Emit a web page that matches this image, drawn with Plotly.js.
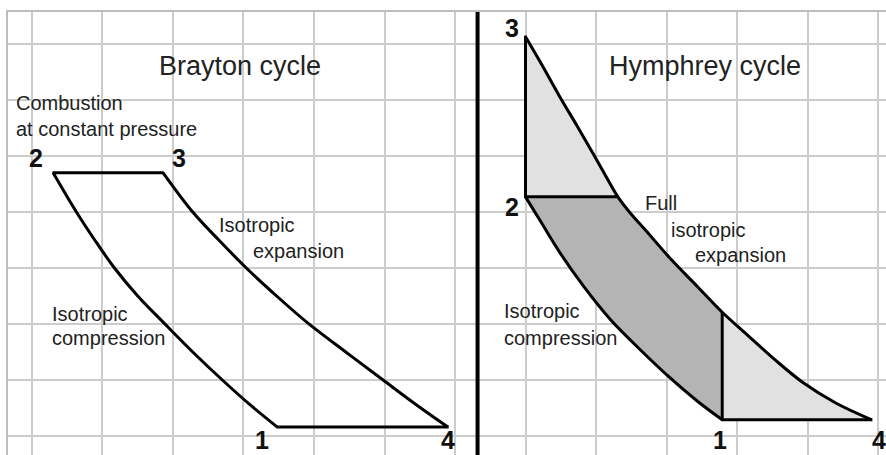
<!DOCTYPE html>
<html>
<head>
<meta charset="utf-8">
<script src="https://cdn.plot.ly/plotly-3.0.1.min.js"></script>
<style>
  html, body { margin: 0; padding: 0; background: #fff; }
  #chart { width: 886px; height: 455px; }
</style>
</head>
<body>
<div id="chart"></div>
<script>
// p-v diagrams, in grid squares (v across, p up)

// Brayton cycle: 2 -> 1 compression, 3 -> 4 expansion
const braytonCompV = [0.30, 0.63, 0.89, 1.17, 1.50, 1.87, 2.28, 2.70, 3.10, 3.48];
const braytonCompP = [4.70, 4.00, 3.50, 3.00, 2.50, 2.02, 1.50, 1.00, 0.55, 0.16];
const braytonExpV  = [1.86, 2.28, 2.65, 3.04, 3.47, 3.91, 4.45, 4.98, 5.46, 5.90];
const braytonExpP  = [4.70, 4.00, 3.50, 3.00, 2.50, 2.02, 1.50, 1.00, 0.55, 0.16];

// Humphrey cycle: 2 -> 1 compression, 3 -> 4 full expansion
const humphreyExpV  = [7.00, 7.25, 7.49, 7.73, 7.96, 8.14, 8.31, 8.50, 8.70, 9.06, 9.43, 9.79, 10.16, 10.54, 10.94, 11.40, 11.91];
const humphreyExpP  = [7.13, 6.59, 6.05, 5.54, 5.04, 4.64, 4.27, 3.96, 3.68, 3.16, 2.68, 2.21, 1.79, 1.36, 0.95, 0.59, 0.29];
const humphreyCompV = [7.00, 7.22, 7.49, 7.82, 8.21, 8.62, 9.04, 9.43, 9.79];
const humphreyCompP = [4.27, 3.82, 3.27, 2.68, 2.07, 1.55, 1.05, 0.63, 0.29];

const divider = 6.32;

const LIGHT = '#e1e1e1';
const DARK = '#b4b4b4';
const INK = '#000';
const TXT = '#222';
const FONT = '"Liberation Sans", Arial, sans-serif';

const rev = (a) => a.slice().reverse();
const last = (a) => a[a.length - 1];

// state points of the Humphrey cycle
const p2 = humphreyCompP[0], v2 = humphreyCompV[0];
const v1 = last(humphreyCompV), p1 = last(humphreyCompP);
const i2 = humphreyExpP.indexOf(p2);   // expansion reaches p2
const i1 = humphreyExpV.indexOf(v1);   // expansion reaches v1

function fillTrace(x, y, color) {
  return { x, y, mode: 'lines', fill: 'toself', fillcolor: color,
           line: { width: 0, color: color, simplify: false }, hoverinfo: 'skip' };
}
function curve(x, y) {
  return { x, y, mode: 'lines', hoverinfo: 'skip',
           line: { color: INK, width: 3, shape: 'spline', smoothing: 1, simplify: false } };
}
function seg(x, y) {
  return { x, y, mode: 'lines', hoverinfo: 'skip', line: { color: INK, width: 3 } };
}

const traces = [
  // Humphrey shaded areas
  fillTrace([...humphreyExpV.slice(0, i2 + 1), v2],
            [...humphreyExpP.slice(0, i2 + 1), p2], LIGHT),
  fillTrace([...humphreyExpV.slice(i2, i1 + 1), v1, ...rev(humphreyCompV)],
            [...humphreyExpP.slice(i2, i1 + 1), p1, ...rev(humphreyCompP)], DARK),
  fillTrace([...humphreyExpV.slice(i1), v1],
            [...humphreyExpP.slice(i1), p1], LIGHT),

  // Brayton
  curve(braytonCompV, braytonCompP),
  curve(braytonExpV, braytonExpP),
  seg([braytonCompV[0] - 0.01, braytonExpV[0] + 0.01], [braytonCompP[0], braytonExpP[0]]),
  seg([last(braytonCompV) - 0.01, last(braytonExpV) + 0.01], [last(braytonCompP), last(braytonExpP)]),

  // Humphrey
  curve(humphreyExpV, humphreyExpP),
  curve(humphreyCompV, humphreyCompP),
  seg([v2, v2], [humphreyExpP[0] + 0.02, p2 - 0.02]),
  seg([v2, humphreyExpV[i2]], [p2, humphreyExpP[i2]]),
  seg([v1, v1], [humphreyExpP[i1], p1 - 0.02]),
  seg([v1 - 0.01, last(humphreyExpV) + 0.01], [p1, last(humphreyExpP)]),
];

const num = (text, x, y, yanchor) => ({
  text, x, y, xref: 'x', yref: 'y', showarrow: false,
  yanchor: yanchor || 'middle', yshift: yanchor ? -1 : 0,
  font: { family: FONT, size: 25, color: '#111', weight: 'bold' }
});
const lbl = (text, x, y, size) => ({
  text, x, y, xref: 'x', yref: 'y', showarrow: false,
  xanchor: size ? 'center' : 'left', align: 'left',
  font: { family: FONT, size: size || 20, color: TXT }
});

const annotations = [
  lbl('Brayton cycle', 2.95, 6.61, 27),
  lbl('Hymphrey cycle', 9.55, 6.61, 27),
  lbl('Combustion<br>at constant pressure', -0.25, 5.71),
  lbl('Isotropic', 2.63, 3.77),
  lbl('expansion', 3.10, 3.30),
  lbl('Isotropic', 0.26, 2.18),
  lbl('compression', 0.26, 1.75),
  lbl('Full', 8.66, 4.16),
  lbl('isotropic', 9.04, 3.68),
  lbl('expansion', 9.37, 3.23),
  lbl('Isotropic', 6.67, 2.23),
  lbl('compression', 6.67, 1.75),
  num('2', 0.06, 4.96),
  num('3', 2.09, 4.96),
  num('1', 3.26, -0.339, 'bottom'),   // sits on the lower edge
  num('4', 5.90, -0.339, 'bottom'),
  num('3', 6.81, 7.29),
  num('2', 6.81, 4.09),
  num('1', 9.76, -0.07),
  num('4', 12.01, -0.07),
];

const grid = {
  dtick: 1, tick0: 0, showgrid: true, gridcolor: '#cccccc', gridwidth: 2,
  zeroline: false, showticklabels: false, ticks: '',
  showline: true, linecolor: '#bdbdbd', linewidth: 2, fixedrange: true
};

const layout = {
  width: 886, height: 455,
  margin: { l: 8, r: 0, t: 12, b: 0 },
  paper_bgcolor: '#fff', plot_bgcolor: '#fff',
  showlegend: false,
  xaxis: Object.assign({}, grid, { range: [-0.34, 12.113], side: 'top' }),
  yaxis: Object.assign({}, grid, { range: [-0.339, 7.571] }),
  shapes: [{
    type: 'line', xref: 'x', yref: 'paper',
    x0: divider, x1: divider, y0: 0, y1: 1,
    line: { color: '#000', width: 4 }
  }],
  annotations
};

Plotly.newPlot('chart', traces, layout, { displayModeBar: false, staticPlot: true });
</script>
</body>
</html>
